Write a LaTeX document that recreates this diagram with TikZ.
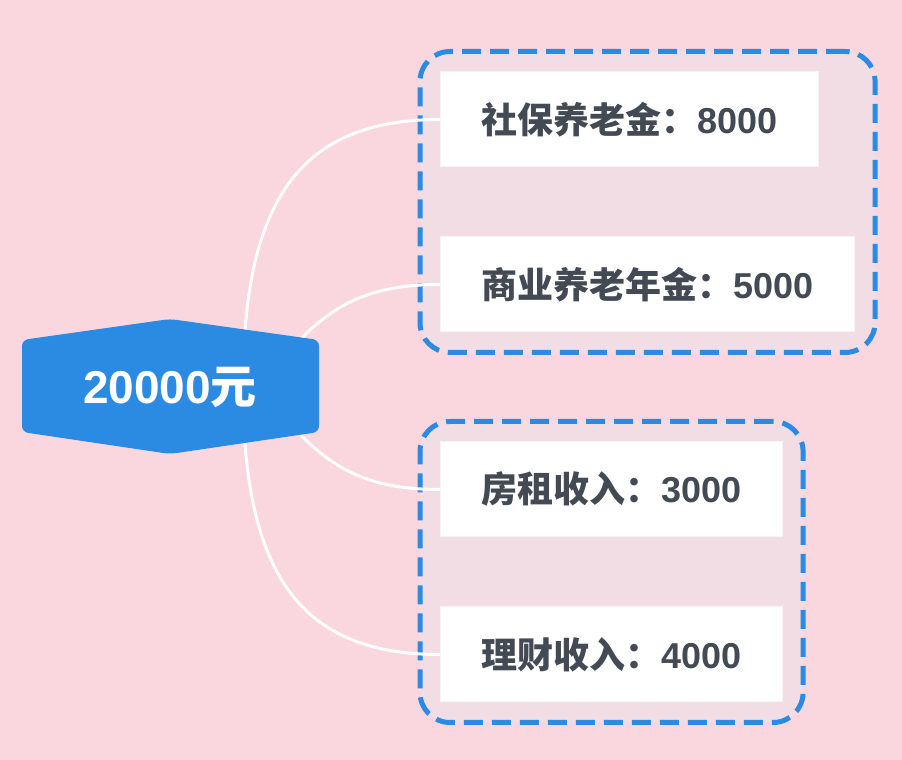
\documentclass[tikz,border=0pt]{standalone}
\usepackage{fontspec}
\setmainfont{Liberation Sans}
\newfontfamily\cjk{Noto Sans CJK SC Bold}
\usetikzlibrary{backgrounds,fit}
\definecolor{bgpink}{RGB}{250,215,223}
\definecolor{grouppink}{RGB}{243,221,228}
\definecolor{mapblue}{RGB}{43,138,226}
\definecolor{textgrey}{RGB}{67,74,84}

\begin{document}
\begin{tikzpicture}[x=1pt, y=1pt,
		leaf/.style={draw=black!4, line width=1pt, fill=white, text=textgrey, anchor=west,
			minimum height=95pt, inner xsep=41pt, font=\fontsize{36}{40}\selectfont\bfseries},
		group/.style={draw=mapblue, line width=5pt, dash pattern=on 19pt off 9pt,
			rounded corners=30pt, fill=grouppink, inner sep=20pt},
		branch/.style={draw=white, line width=3pt}]
	% Hintergrund
	\begin{scope}[on background layer]
		\fill[bgpink] (0,0) rectangle (902,760);
	\end{scope}
	\useasboundingbox (0,0) rectangle (902,760);
	% Zentrale Form
	\fill[mapblue, rounded corners=6pt] (22,420) -- (170,441) -- (319,420) -- (319,328) -- (170,306) -- (22,328) -- cycle;
	\node[text=white, font=\fontsize{46}{50}\selectfont\bfseries] (root) at (170,373) {20000{\cjk 元}};
	% Blaetter
	\node[leaf] (social) at (440,640.5) {{\cjk 社保养老金：}8000};
	\node[leaf] (commercial) at (440,475.5) {{\cjk 商业养老年金：}5000};
	\node[leaf] (rent) at (440,270.5) {{\cjk 房租收入：}3000};
	\node[leaf, minimum width=340pt] (invest) at (440,105.5) {{\cjk 理财收入：}4000};
	% Gruppen und Aeste
	\begin{scope}[on background layer]
		\node[group, fit=(social)(commercial)] (pensiongroup) {};
		\node[group, fit=(rent)(invest)] (incomegroup) {};
		\draw[branch] ([xshift=73pt]root.center) .. controls +(0,187) and +(-140,0) .. (social.west);
		\draw[branch] ([xshift=100pt,yshift=12pt]root.center) .. controls +(50,65) and +(-80,0) .. (commercial.west);
		\draw[branch] ([xshift=100pt,yshift=-12pt]root.center) .. controls +(50,-65) and +(-80,0) .. (rent.west);
		\draw[branch] ([xshift=73pt]root.center) .. controls +(0,-187) and +(-140,0) .. (invest.west);
	\end{scope}
\end{tikzpicture}
\end{document}
